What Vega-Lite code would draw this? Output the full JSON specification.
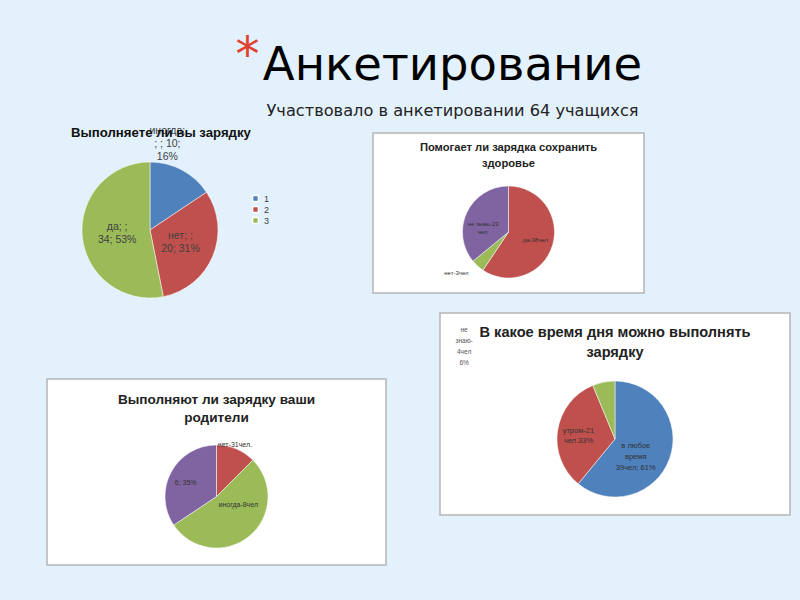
{
"$schema": "https://vega.github.io/schema/vega-lite/v6.json",
"background": "#e2f1fc",
"padding": {"left": 46, "top": 32, "right": 12, "bottom": 37},
"config": {"view": {"stroke": null}, "font": "Liberation Sans", "title": {"font": "Liberation Sans"}},
"datasets": {
  "q1": [
    {"k": 1, "cat": "1", "value": 10, "lab": "иногда;\n; ; 10;\n16%"},
    {"k": 2, "cat": "2", "value": 20, "lab": "нет; ;\n20; 31%"},
    {"k": 3, "cat": "3", "value": 34, "lab": "да; ;\n34; 53%"}
  ],
  "q2": [
    {"k": 1, "cat": "да", "value": 38, "lab": "да-38чел"},
    {"k": 2, "cat": "нет", "value": 3, "lab": "нет-3чел"},
    {"k": 3, "cat": "не знаю", "value": 23, "lab": "не знаю-23\nчел."}
  ],
  "q3": [
    {"k": 1, "cat": "нет", "value": 8, "lab": "нет-31чел."},
    {"k": 2, "cat": "иногда", "value": 34, "lab": "иногда-8чел"},
    {"k": 3, "cat": "да", "value": 22, "lab": "6; 35%"}
  ],
  "q4": [
    {"k": 1, "cat": "в любое время", "value": 39, "lab": "в любое\nвремя\n39чел; 61%"},
    {"k": 2, "cat": "утром", "value": 21, "lab": "утром-21\nчел.33%"},
    {"k": 3, "cat": "не знаю", "value": 4, "lab": "не\nзнаю-\n4чел\n6%"}
  ]
},
"resolve": {"scale": {"color": "independent", "theta": "independent"}},
"title": {"text": "*", "color": "#e0402e", "fontSize": 48, "font": "DejaVu Sans", "fontWeight": "normal", "anchor": "middle", "dx": -171, "dy": 42},
"vconcat": [{
  "title": {"text": "Анкетирование", "subtitle": "Участвовало в анкетировании 64 учащихся", "font": "DejaVu Sans", "fontSize": 46.5, "fontWeight": "normal", "color": "#000000", "subtitleFont": "DejaVu Sans", "subtitleFontSize": 16.2, "subtitleColor": "#222222", "anchor": "middle", "dx": 34, "offset": 6, "subtitlePadding": 14},
  "resolve": {"scale": {"color": "independent", "theta": "independent"}},
  "spacing": 13,
  "vconcat": [
    {
      "hconcat": [
        {
          "width": 306, "height": 160,
          "data": {"name": "q1"},
          "view": {"stroke": null, "fill": null},
          "title": {"text": "Выполняете ли вы зарядку", "anchor": "start", "dx": 24, "fontSize": 13.2, "fontWeight": "bold", "color": "#111111", "offset": -14},
          "layer": [
            {
              "mark": {"type": "arc", "outerRadius": 68, "xOffset": -50, "yOffset": 17, "stroke": "#ffffff", "strokeWidth": 0.5},
              "encoding": {
                "theta": {"field": "value", "type": "quantitative", "stack": true},
                "order": {"field": "k", "type": "quantitative"},
                "color": {"field": "cat", "type": "nominal", "scale": {"domain": ["1", "2", "3"], "range": ["#4F81BD", "#C0504D", "#9BBB59"]},
                  "legend": {"title": null, "orient": "none", "legendX": 204, "legendY": 61, "symbolType": "square", "symbolSize": 34, "labelFontSize": 9, "labelColor": "#404040", "padding": 0, "rowPadding": -4}}
              }
            },
            {
              "mark": {"type": "text", "radius": 75, "xOffset": -50, "yOffset": 17, "dx": -18, "dy": -33, "fontSize": 10.5, "lineBreak": "\n", "lineHeight": 13, "color": "#404040"},
              "encoding": {
                "theta": {"field": "value", "type": "quantitative", "stack": true},
                "order": {"field": "k", "type": "quantitative"},
                "detail": {"field": "k", "type": "ordinal"},
                "text": {"condition": {"test": "datum.k == 1", "field": "lab", "type": "nominal"}, "value": ""}
              }
            },
            {
              "mark": {"type": "text", "radius": 33, "xOffset": -50, "yOffset": 17, "dy": -6.5, "fontSize": 10.5, "lineBreak": "\n", "lineHeight": 13, "color": "#404040"},
              "encoding": {
                "theta": {"field": "value", "type": "quantitative", "stack": true},
                "order": {"field": "k", "type": "quantitative"},
                "detail": {"field": "k", "type": "ordinal"},
                "text": {"condition": {"test": "datum.k != 1", "field": "lab", "type": "nominal"}, "value": ""}
              }
            }
          ]
        },
        {
          "width": 271, "height": 160,
          "data": {"name": "q2"},
          "view": {"fill": "#ffffff", "stroke": "#b5b5b5", "strokeWidth": 1.5},
          "title": {"text": ["Помогает ли зарядка сохранить", "здоровье"], "anchor": "middle", "fontSize": 11.2, "lineHeight": 16, "fontWeight": "bold", "color": "#222222", "offset": -36},
          "layer": [
            {
              "mark": {"type": "arc", "outerRadius": 46, "yOffset": 19, "stroke": "#ffffff", "strokeWidth": 0.5},
              "encoding": {
                "theta": {"field": "value", "type": "quantitative", "stack": true},
                "order": {"field": "k", "type": "quantitative"},
                "color": {"field": "cat", "type": "nominal", "scale": {"domain": ["да", "нет", "не знаю"], "range": ["#C0504D", "#9BBB59", "#8064A2"]}, "legend": null}
              }
            },
            {
              "mark": {"type": "text", "radius": 28, "yOffset": 19, "fontSize": 6, "lineBreak": "\n", "lineHeight": 8, "color": "#333333"},
              "encoding": {
                "theta": {"field": "value", "type": "quantitative", "stack": true},
                "order": {"field": "k", "type": "quantitative"},
                "detail": {"field": "k", "type": "ordinal"},
                "text": {"condition": {"test": "datum.k == 1", "field": "lab", "type": "nominal"}, "value": ""}
              }
            },
            {
              "mark": {"type": "text", "radius": 28, "yOffset": 19, "dy": 4, "fontSize": 6, "lineBreak": "\n", "lineHeight": 8, "color": "#333333"},
              "encoding": {
                "theta": {"field": "value", "type": "quantitative", "stack": true},
                "order": {"field": "k", "type": "quantitative"},
                "detail": {"field": "k", "type": "ordinal"},
                "text": {"condition": {"test": "datum.k == 3", "field": "lab", "type": "nominal"}, "value": ""}
              }
            },
            {
              "mark": {"type": "text", "radius": 55, "yOffset": 19, "dx": -3, "align": "right", "fontSize": 6, "lineBreak": "\n", "lineHeight": 8, "color": "#333333"},
              "encoding": {
                "theta": {"field": "value", "type": "quantitative", "stack": true},
                "order": {"field": "k", "type": "quantitative"},
                "detail": {"field": "k", "type": "ordinal"},
                "text": {"condition": {"test": "datum.k == 2", "field": "lab", "type": "nominal"}, "value": ""}
              }
            }
          ]
        }
      ],
      "spacing": 20,
      "bounds": "flush",
      "resolve": {"scale": {"color": "independent", "theta": "independent"}}
    },
    {
      "hconcat": [
        {
          "vconcat": [
            {"width": 10, "height": 65, "data": {"values": []}, "mark": "point", "view": {"stroke": null, "fill": null}},
            {
              "width": 339, "height": 186,
              "data": {"name": "q3"},
              "view": {"fill": "#ffffff", "stroke": "#b5b5b5", "strokeWidth": 1.5},
              "title": {"text": ["Выполняют ли зарядку ваши", "родители"], "anchor": "middle", "fontSize": 13.6, "lineHeight": 18, "fontWeight": "bold", "color": "#222222", "offset": -46},
              "layer": [
                {
                  "mark": {"type": "arc", "outerRadius": 51.5, "yOffset": 24.5, "stroke": "#ffffff", "strokeWidth": 0.5},
                  "encoding": {
                    "theta": {"field": "value", "type": "quantitative", "stack": true},
                    "order": {"field": "k", "type": "quantitative"},
                    "color": {"field": "cat", "type": "nominal", "scale": {"domain": ["нет", "иногда", "да"], "range": ["#C0504D", "#9BBB59", "#8064A2"]}, "legend": null}
                  }
                },
                {
                  "mark": {"type": "text", "radius": 56, "yOffset": 24.5, "dx": -3, "fontSize": 7, "color": "#333333"},
                  "encoding": {
                    "theta": {"field": "value", "type": "quantitative", "stack": true},
                    "order": {"field": "k", "type": "quantitative"},
                    "detail": {"field": "k", "type": "ordinal"},
                    "text": {"condition": {"test": "datum.k == 1", "field": "lab", "type": "nominal"}, "value": ""}
                  }
                },
                {
                  "mark": {"type": "text", "radius": 28, "yOffset": 24.5, "dx": 4, "dy": -13, "fontSize": 7, "color": "#333333"},
                  "encoding": {
                    "theta": {"field": "value", "type": "quantitative", "stack": true},
                    "order": {"field": "k", "type": "quantitative"},
                    "detail": {"field": "k", "type": "ordinal"},
                    "text": {"condition": {"test": "datum.k == 2", "field": "lab", "type": "nominal"}, "value": ""}
                  }
                },
                {
                  "mark": {"type": "text", "radius": 35, "yOffset": 24.5, "dy": 3, "fontSize": 7, "color": "#333333"},
                  "encoding": {
                    "theta": {"field": "value", "type": "quantitative", "stack": true},
                    "order": {"field": "k", "type": "quantitative"},
                    "detail": {"field": "k", "type": "ordinal"},
                    "text": {"condition": {"test": "datum.k == 3", "field": "lab", "type": "nominal"}, "value": ""}
                  }
                }
              ]
            }
          ],
          "spacing": 0,
          "resolve": {"scale": {"color": "independent", "theta": "independent"}}
        },
        {
          "width": 350, "height": 202,
          "data": {"name": "q4"},
          "view": {"fill": "#ffffff", "stroke": "#b5b5b5", "strokeWidth": 1.5},
          "title": {"text": ["В какое время дня можно выполнять", "зарядку"], "anchor": "middle", "fontSize": 14.6, "lineHeight": 20, "fontWeight": "bold", "color": "#222222", "offset": -47},
          "layer": [
            {
              "mark": {"type": "arc", "outerRadius": 58, "yOffset": 25, "stroke": "#ffffff", "strokeWidth": 0.5},
              "encoding": {
                "theta": {"field": "value", "type": "quantitative", "stack": true},
                "order": {"field": "k", "type": "quantitative"},
                "color": {"field": "cat", "type": "nominal", "scale": {"domain": ["в любое время", "утром", "не знаю"], "range": ["#4F81BD", "#C0504D", "#9BBB59"]}, "legend": null}
              }
            },
            {
              "mark": {"type": "text", "radius": 22, "yOffset": 25, "fontSize": 7.5, "lineBreak": "\n", "lineHeight": 11, "color": "#333333"},
              "encoding": {
                "theta": {"field": "value", "type": "quantitative", "stack": true},
                "order": {"field": "k", "type": "quantitative"},
                "detail": {"field": "k", "type": "ordinal"},
                "text": {"condition": {"test": "datum.k == 1", "field": "lab", "type": "nominal"}, "value": ""}
              }
            },
            {
              "mark": {"type": "text", "radius": 37, "yOffset": 25, "dy": -3, "fontSize": 7.5, "lineBreak": "\n", "lineHeight": 10, "color": "#333333"},
              "encoding": {
                "theta": {"field": "value", "type": "quantitative", "stack": true},
                "order": {"field": "k", "type": "quantitative"},
                "detail": {"field": "k", "type": "ordinal"},
                "text": {"condition": {"test": "datum.k == 2", "field": "lab", "type": "nominal"}, "value": ""}
              }
            },
            {
              "mark": {"type": "text", "radius": 20, "yOffset": 25, "dx": -147, "dy": -89, "fontSize": 6.5, "lineBreak": "\n", "lineHeight": 11, "color": "#555555"},
              "encoding": {
                "theta": {"field": "value", "type": "quantitative", "stack": true},
                "order": {"field": "k", "type": "quantitative"},
                "detail": {"field": "k", "type": "ordinal"},
                "text": {"condition": {"test": "datum.k == 3", "field": "lab", "type": "nominal"}, "value": ""}
              }
            }
          ]
        }
      ],
      "spacing": 52,
      "resolve": {"scale": {"color": "independent", "theta": "independent"}}
    }
  ]
}]
}
